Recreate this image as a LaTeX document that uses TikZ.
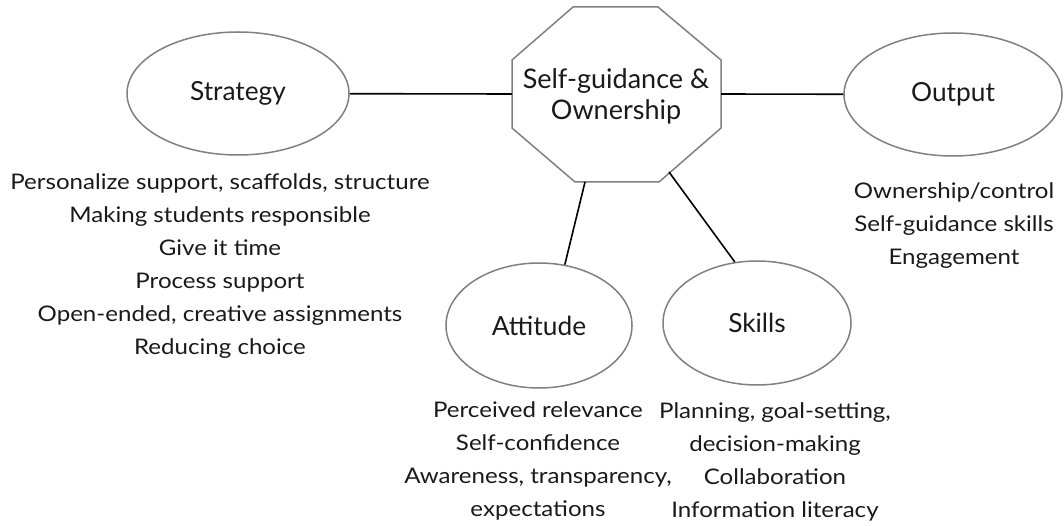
\documentclass[tikz,border=0pt]{standalone}
\usepackage{fontspec}
\setmainfont{Lato}
\newfontfamily\widelato{Lato}[FakeStretch=1.12]
\usetikzlibrary{shapes.geometric}
\definecolor{shapegray}{HTML}{808080}
\definecolor{textdark}{HTML}{1A1A1A}
\begin{document}
\begin{tikzpicture}[x=1pt,y=-1pt,
  shapeline/.style={draw=shapegray, line width=1.5pt},
  oval/.style={ellipse, shapeline, fill=white, inner sep=0pt, text=textdark, font=\fontsize{26.3}{34}\selectfont},
  link/.style={draw=black, line width=1.6pt},
  listtext/.style={align=center, inner sep=0pt, text=textdark, font=\widelato\fontsize{21.5}{33}\selectfont}]
\useasboundingbox[fill=white] (0,0) rectangle (1064,526);
% ellipses
\node[oval, minimum width=222pt, minimum height=123pt] (str) at (238,93.5) {Strategy};
\node[oval, minimum width=218pt, minimum height=123pt] (out) at (953,94.5) {Output};
\node[oval, minimum width=186pt, minimum height=125pt] (att) at (539,325.5) {Attitude};
\node[oval, minimum width=188pt, minimum height=124pt] (skl) at (757,323) {Skills};
% octagon
\coordinate (o1) at (573,7);
\coordinate (o2) at (658,7);
\coordinate (o3) at (721,60);
\coordinate (o4) at (721,128);
\coordinate (o5) at (659,182);
\coordinate (o6) at (575,182);
\coordinate (o7) at (512,128);
\coordinate (o8) at (512,60);
\draw[shapeline, fill=white] (o1) -- (o2) -- (o3) -- (o4) -- (o5) -- (o6) -- (o7) -- (o8) -- cycle;
\node[align=center, inner sep=0pt, text=textdark, font=\fontsize{27}{31}\selectfont] (sg) at (616,96) {Self-guidance \&\\Ownership};
\coordinate (oL) at (512,94);
\coordinate (oR) at (721,94);
\coordinate (oB) at (585,182);
\coordinate (oD) at (669,172);
% connectors
\draw[link] (str) -- (oL);
\draw[link] (oR) -- (out);
\draw[link] (oB) -- (att.67);
\draw[link] (oD) -- (skl.110);
% lists
\node[listtext] (strlist) at (220,266) {Personalize support, scaffolds, structure\\Making students responsible\\Give it time\\Process support\\Open-ended, creative assignments\\Reducing choice};
\node[listtext] (outlist) at (954,226) {Ownership/control\\Self-guidance skills\\Engagement};
\node[listtext] (attlist) at (538,460.5) {Perceived relevance\\Self-confidence\\Awareness, transparency,\\expectations};
\node[listtext] (skllist) at (775,462) {Planning, goal-setting,\\decision-making\\Collaboration\\Information literacy};
\end{tikzpicture}
\end{document}
